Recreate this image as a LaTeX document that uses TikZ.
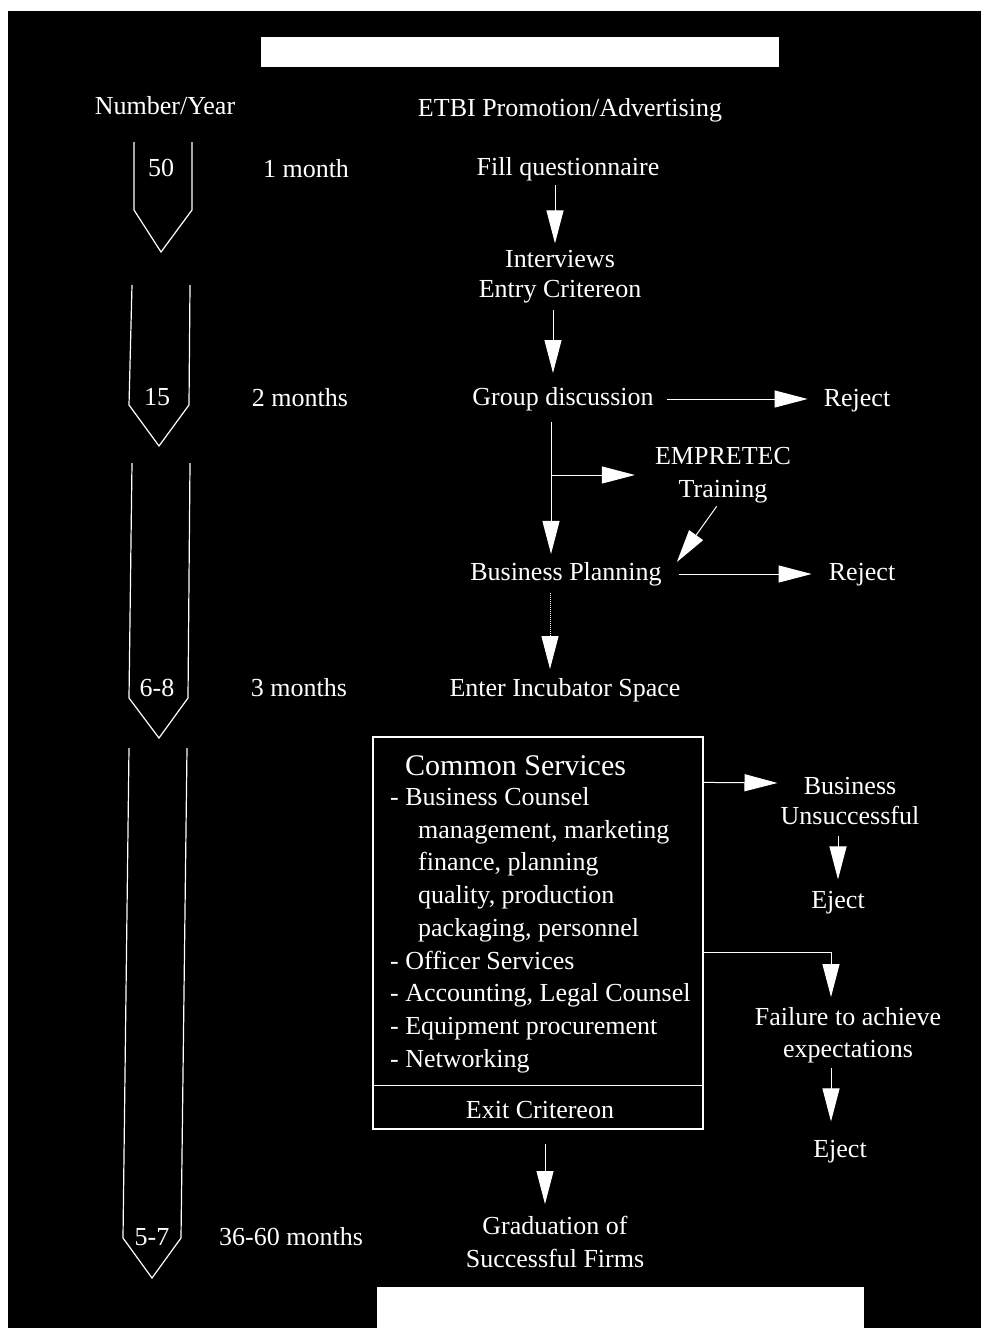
\documentclass[tikz,border=0pt]{standalone}
\usepackage{fontspec}
\setmainfont{Liberation Serif}
\usetikzlibrary{arrows.meta,calc}

\tikzset{
  txt/.style={text=white, font=\fontsize{26}{31}\selectfont, inner sep=0pt},
  arr/.style={draw=white, line width=1pt, -{Triangle[length=33pt,width=17pt]}},
  chev/.style={draw=white, line width=1.2pt},
  frame/.style={draw=white, line width=1.2pt},
}

\begin{document}
\begin{tikzpicture}[x=1pt,y=-1pt]
\useasboundingbox (0,0) rectangle (980,1328);
% page and dark panel
\fill[white] (0,0) rectangle (980,1328);
\fill[black] (8,11) rectangle (995,1345);
% title and caption blanks
\fill[white] (261,37) rectangle (779,67);
\fill[white] (377,1287) rectangle (864,1345);

% column headings
\node[txt] (hnum) at (165,106) {Number/Year};
\node[txt] (hetbi) at (570,110) {ETBI Promotion/Advertising};

% stage chevrons on the left
\draw[chev] (134,142) -- (134,210) -- (161,252) -- (192,210) -- (192,142);
\draw[chev] (132,285) -- (129,405) -- (159,446) -- (189,405) -- (190,285);
\draw[chev] (132,463) -- (129,698) -- (159,738) -- (188,698) -- (190,463);
\draw[chev] (129,748) -- (123,1238) -- (152,1278) -- (181,1238) -- (187,748);
\node[txt] (n1) at (161,168) {50};
\node[txt] (n2) at (157,397) {15};
\node[txt] (n3) at (157,688) {6-8};
\node[txt] (n4) at (152,1237) {5-7};

% durations
\node[txt] (t1) at (306,169) {1 month};
\node[txt] (t2) at (300,398) {2 months};
\node[txt] (t3) at (299,688) {3 months};
\node[txt] (t4) at (291,1237) {36-60 months};

% selection steps
\node[txt] (fill) at (568,169) {Fill questionnaire};
\node[txt, align=center, font=\fontsize{26}{30}\selectfont] (int) at (560,277) {Interviews\\Entry Critereon};
\node[txt] (grp) at (563,399) {Group discussion};
\node[txt] (rej1) at (857,401) {Reject};
\node[txt, align=center, font=\fontsize{26}{33}\selectfont] (emp) at (723,475) {EMPRETEC\\Training};
\node[txt] (bp) at (566,574) {Business Planning};
\node[txt] (rej2) at (862,575) {Reject};
\node[txt] (eis) at (565,690) {Enter Incubator Space};

% incubator services box
\node[frame, minimum width=330pt, minimum height=392pt, inner sep=0pt] (cs) at (538,933) {};
\draw[frame] ([yshift=44pt]cs.south west) -- ([yshift=44pt]cs.south east);
\node[txt, anchor=base west, font=\fontsize{30}{36}\selectfont] (cshead) at (405,775) {Common Services};
\node[txt, anchor=north west, align=left, font=\fontsize{26}{32.75}\selectfont] (cslist) at (390,787)
  {- Business Counsel\\
   \hspace*{28pt}management, marketing\\
   \hspace*{28pt}finance, planning\\
   \hspace*{28pt}quality, production\\
   \hspace*{28pt}packaging, personnel\\
   - Officer Services\\
   - Accounting, Legal Counsel\\
   - Equipment procurement\\
   - Networking};
\node[txt] (exit) at (540,1110) {Exit Critereon};

% outcomes
\node[txt, align=center, font=\fontsize{26}{30}\selectfont] (bu) at (850,801) {Business\\Unsuccessful};
\node[txt] (ej1) at (838,903) {Eject};
\node[txt, align=center, font=\fontsize{26}{32}\selectfont] (fail) at (848,1035) {Failure to achieve\\expectations};
\node[txt] (ej2) at (840,1152) {Eject};
\node[txt, align=center, font=\fontsize{26}{33}\selectfont] (grad) at (555,1242) {Graduation of\\Successful Firms};

% connectors
\draw[arr, shorten <=4pt, shorten >=7pt] ([xshift=-13pt]fill.south) -- ([xshift=-5pt]int.north);
\draw[arr, shorten <=6pt, shorten >=14pt] ([xshift=-7pt]int.south) -- ([xshift=-10pt]grp.north);
\draw[arr, shorten <=13pt, shorten >=16pt] (grp.east) -- (grp.east -| rej1.west);
\draw[arr, shorten <=11pt, shorten >=8pt] ([xshift=-12pt]grp.south) -- ([xshift=-15pt]bp.north);
\coordinate (br) at (551,475);
\draw[arr, shorten >=20pt] (br) -- (br -| emp.west);
\draw[arr, shorten <=4pt] ([xshift=-4pt]emp.south) -- ([xshift=15pt]bp.north east);
\draw[arr, shorten <=17pt, shorten >=17pt] (bp.east) -- (bp.east -| rej2.west);
\draw[arr, densely dotted, shorten <=7pt, shorten >=9pt] ([xshift=-16pt]bp.south) -- ([xshift=-15pt]eis.north);
\draw[arr, shorten >=3pt] ([yshift=-46pt]cs.north east) -- ([yshift=18pt]bu.west);
\draw[arr, shorten <=11pt, shorten >=12pt] ([xshift=-12pt]bu.south) -- (ej1.north);
\draw[arr, shorten >=10pt] ([yshift=-216pt]cs.north east) -| ([xshift=-17pt]fail.north);
\draw[arr, shorten <=5pt, shorten >=19pt] ([xshift=-17pt]fail.south) -- ([xshift=-9pt]ej2.north);
\draw[arr, shorten <=14pt, shorten >=12pt] ([xshift=7pt]cs.south) -- ([xshift=-10pt]grad.north);
\end{tikzpicture}
\end{document}
